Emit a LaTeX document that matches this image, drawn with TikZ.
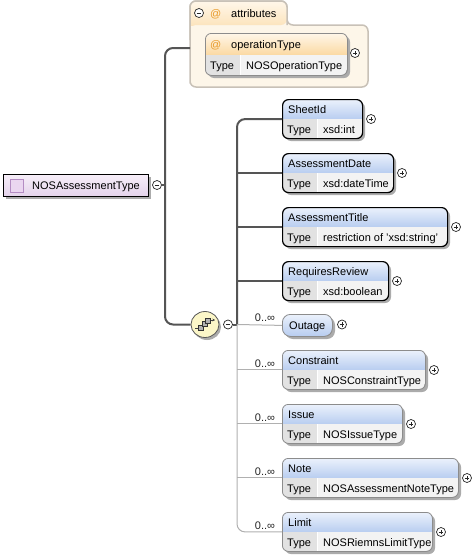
\documentclass[tikz,border=0pt]{standalone}
\usepackage{fontspec}
\setmainfont{Liberation Sans}
\usetikzlibrary{shapes.geometric,arrows.meta}
\definecolor{hdtop}{HTML}{ECF2FC}
\definecolor{hdbot}{HTML}{B8CDF0}
\definecolor{typec}{HTML}{E2E2E2}
\definecolor{valc}{HTML}{F3F3F3}
\definecolor{attop}{HTML}{FFF7EA}
\definecolor{atbot}{HTML}{FBD9A2}
\definecolor{beige}{HTML}{FDF6E9}
\definecolor{beigeb}{HTML}{C8C1B7}
\definecolor{shadowc}{HTML}{ABABAB}
\definecolor{conn}{HTML}{555555}
\definecolor{thinc}{HTML}{B0B0B0}
\definecolor{rtop}{HTML}{F7EFF9}
\definecolor{rbot}{HTML}{E4D3EB}
\definecolor{iconf}{HTML}{EAD6F0}
\definecolor{iconb}{HTML}{B48CC3}
\definecolor{seqc}{HTML}{FBF6C8}
\definecolor{atc}{HTML}{E89A2A}
\tikzset{
  txt/.style={anchor=west, inner sep=0pt, text height=8pt, text depth=0pt, font=\fontsize{11}{13}\selectfont},
  mandbox/.style={rectangle, draw=black, line width=1.2pt, rounded corners=6pt, inner sep=0pt},
  optbox/.style={rectangle, draw=black!45, line width=0.8pt, rounded corners=6pt, inner sep=0pt},
  pmcirc/.style={circle, draw=black!85, fill=white, line width=0.7pt, minimum size=9pt, inner sep=0pt},
  plusc/.style={pmcirc, path picture={
      \draw[line width=0.7pt] ([xshift=-2.3pt]path picture bounding box.center) -- ([xshift=2.3pt]path picture bounding box.center);
      \draw[line width=0.7pt] ([yshift=-2.3pt]path picture bounding box.center) -- ([yshift=2.3pt]path picture bounding box.center);}},
  minusc/.style={pmcirc, path picture={
      \draw[line width=0.7pt] ([xshift=-2.3pt]path picture bounding box.center) -- ([xshift=2.3pt]path picture bounding box.center);}},
  thickconn/.style={draw=conn, line width=2pt},
  thinconn/.style={draw=thinc, line width=1pt},
  mult/.style={inner sep=0pt, font=\fontsize{11}{13}\selectfont, text=black!85},
}
% two-row element: #1 name, #2 x, #3 y, #4 width, #5 divider, #6 title, #7 type, #8 box style
\newcommand\elemtwo[8]{%
  \fill[shadowc, rounded corners=6pt] (#2+3,#3+3) rectangle ++(#4,39);
  \begin{scope}
    \clip[rounded corners=6pt] (#2,#3) rectangle ++(#4,39);
    \shade[top color=hdtop,bottom color=hdbot] (#2,#3) rectangle ++(#4,20);
    \fill[typec] (#2,#3+20) rectangle ++(#5,19);
    \fill[valc] (#2+#5,#3+20) rectangle (#2+#4,#3+39);
    \draw[white, line width=0.8pt] (#2+#5,#3+20) -- ++(0,19);
  \end{scope}
  \node[#8, minimum width=#4pt, minimum height=39pt, anchor=north west] (#1) at (#2,#3) {};
  \node[txt] at (#2+6,#3+10.3) {#6};
  \node[txt] at (#2+5,#3+30) {Type};
  \node[txt] at (#2+#5+6,#3+30) {#7};
  \node[plusc] (#1p) at (#2+#4+9,#3+20) {};
}
\begin{document}
\begin{tikzpicture}[x=1pt,y=-1pt]
\useasboundingbox (0,0) rectangle (475,557);
\fill[white] (0,0) rectangle (475,557);

% ---------- attributes group ----------
\filldraw[fill=beige, draw=beigeb, line width=1.5pt, rounded corners=6pt]
  (190,87) |- (287,1) |- (368,25) |- cycle;
\begin{scope}
  \clip[rounded corners=6pt] (190,30) |- (287,1) -- (287,25) -- (190,25) -- cycle;
  \shade[top color=attop, bottom color=atbot!70] (190,1) rectangle (287,25);
\end{scope}
\draw[draw=beigeb, line width=1.5pt, rounded corners=6pt] (190,40) |- (287,1) -- (287,25);
\node[minusc] (attrm) at (199,13) {};
\node[txt, text=atc] at (210,13) {@};
\node[txt] at (231,13) {attributes};
\coordinate (attr) at (190,48);

% operationType attribute
\fill[shadowc, rounded corners=6pt] (208,36) rectangle (350,78);
\begin{scope}
  \clip[rounded corners=6pt] (205,33) rectangle (347,75);
  \shade[top color=attop, bottom color=atbot] (205,33) rectangle (347,55);
  \fill[typec] (205,55) rectangle (240,75);
  \fill[valc] (240,55) rectangle (347,75);
  \draw[white, line width=0.8pt] (240,55) -- (240,75);
\end{scope}
\node[optbox, minimum width=142pt, minimum height=42pt, anchor=north west] (optype) at (205,33) {};
\node[txt, text=atc] at (210,44.5) {@};
\node[txt] at (231,44.5) {operationType};
\node[txt] at (210,65.5) {Type};
\node[txt] at (246,65.5) {NOSOperationType};
\node[plusc] (optypep) at (355,53) {};

% ---------- root ----------
\fill[shadowc] (6,177) rectangle (151,199);
\shade[top color=rtop, bottom color=rbot] (3,174) rectangle (148,196);
\draw[black, line width=1pt] (3,174) rectangle (148,196);
\filldraw[fill=iconf, draw=iconb, line width=1pt] (10,179) rectangle (23,192);
\node[minimum width=145pt, minimum height=22pt, anchor=north west, inner sep=0pt] (root) at (3,174) {};
\node[txt] at (32,185) {NOSAssessmentType};
\node[minusc] (rootm) at (157,185) {};

% ---------- sequence compositor ----------
\fill[shadowc] (207,327) ellipse [x radius=14, y radius=13];
\node[ellipse, draw=black!65, fill=seqc, line width=0.8pt, minimum width=28pt, minimum height=26pt, inner sep=0pt] (seq) at (205,324.5) {};
\draw[black!75, line width=0.7pt] (195,328) -- (199,328);
\draw[black!75, line width=0.6pt, -{Stealth[length=2.5pt,width=2.5pt]}] (209,320) -- (215,320);
\filldraw[fill=black!30, draw=black!80, line width=0.6pt] (198.5,325) rectangle (203.5,330);
\filldraw[fill=black!30, draw=black!80, line width=0.6pt] (202,321.5) rectangle (207,326.5);
\filldraw[fill=black!30, draw=black!80, line width=0.6pt] (205.5,318) rectangle (210.5,323);
\node[minusc] (seqm) at (228,324.5) {};

% ---------- elements ----------
\elemtwo{sheet}{282}{99}{80}{35}{SheetId}{xsd:int}{mandbox}
\elemtwo{adate}{282}{153}{111}{35}{AssessmentDate}{xsd:dateTime}{mandbox}
\elemtwo{atitle}{282}{207}{165}{35}{AssessmentTitle}{restriction of 'xsd:string'}{mandbox}
\elemtwo{review}{282}{261}{106}{35}{RequiresReview}{xsd:boolean}{mandbox}

% Outage (single row)
\fill[shadowc, rounded corners=8pt] (285,317) rectangle (335,339);
\shade[top color=hdtop, bottom color=hdbot, rounded corners=8pt] (282,314) rectangle (332,336);
\node[optbox, rounded corners=8pt, minimum width=50pt, minimum height=22pt, anchor=north west] (outage) at (282,314) {};
\node[txt] at (289,325) {Outage};
\node[plusc] (outagep) at (342,324.5) {};

\elemtwo{constr}{282}{350}{143}{35}{Constraint}{NOSConstraintType}{optbox}
\elemtwo{issue}{282}{404}{120}{35}{Issue}{NOSIssueType}{optbox}
\elemtwo{note}{282}{458}{176}{35}{Note}{NOSAssessmentNoteType}{optbox}
\elemtwo{limit}{282}{512}{150}{35}{Limit}{NOSRiemnsLimitType}{optbox}

% ---------- connectors ----------
\coordinate (j1) at (165,185);
\coordinate (j2) at (237,324.5);
\draw[thickconn] (rootm.east) -- (j1);
\draw[thickconn, rounded corners=8pt] (attr) -| (j1) |- (seq.west);
\draw[thickconn] (seqm.east) -- (j2);
\draw[thickconn, rounded corners=8pt] (sheet.west) -| (j2);
\draw[thickconn] (j2 |- adate.west) -- (adate.west);
\draw[thickconn] (j2 |- atitle.west) -- (atitle.west);
\draw[thickconn] (j2 |- review.west) -- (review.west);
\draw[thinconn, rounded corners=8pt] (j2) |- (limit.west);
\draw[thinconn] (j2) -- (outage.west);
\draw[thinconn] (j2 |- constr.west) -- (constr.west);
\draw[thinconn] (j2 |- issue.west) -- (issue.west);
\draw[thinconn] (j2 |- note.west) -- (note.west);

% multiplicities
\node[mult] at (265,318) {0..∞};
\node[mult] at (265,363.5) {0..∞};
\node[mult] at (265,417.5) {0..∞};
\node[mult] at (265,471.5) {0..∞};
\node[mult] at (265,525.5) {0..∞};
\end{tikzpicture}
\end{document}
